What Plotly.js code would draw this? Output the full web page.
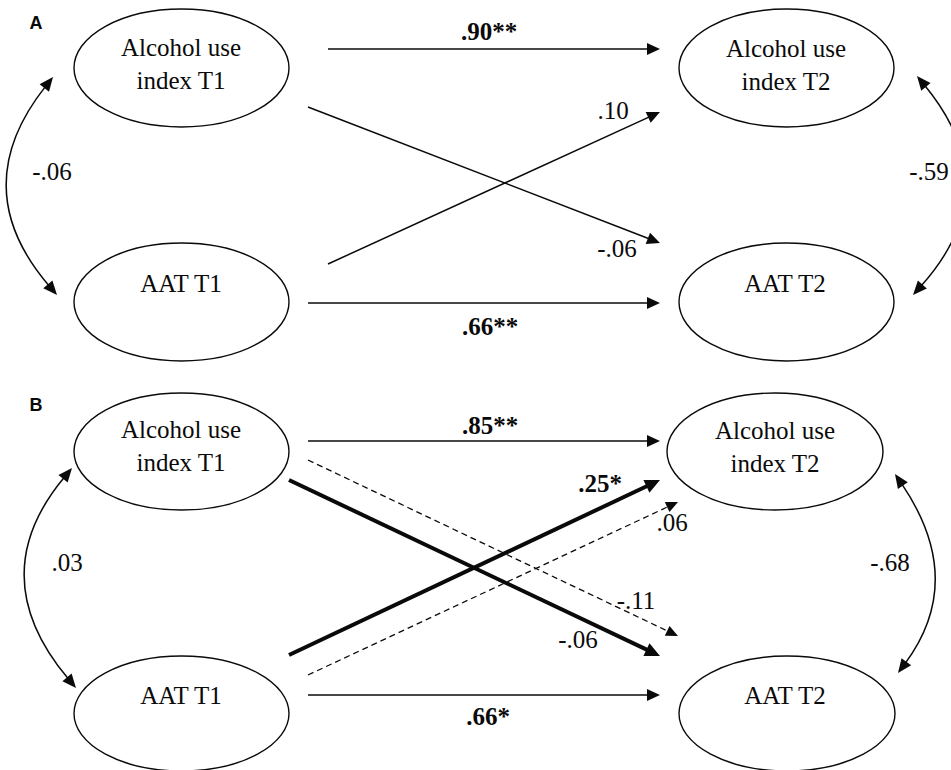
<!DOCTYPE html>
<html><head><meta charset="utf-8">
<script src="https://cdn.plot.ly/plotly-3.0.1.min.js"></script>
<style>html,body{margin:0;padding:0;background:#fff;}</style>
</head><body><div id="chart" style="width:951px;height:770px;"></div>
<script>
// ---------- data ----------
const panels = ["A", "B"];
const nodeNames = ["Alcohol use<br>index T1", "AAT T1", "Alcohol use<br>index T2", "AAT T2"];
const pathLabelsA = ["<b>.90**</b>", ".10", "-.06", "<b>.66**</b>"];
const covLabelsA = ["-.06", "-.59"];
const pathLabelsB = ["<b>.85**</b>", "<b>.25*</b>", ".06", "-.11", "-.06", "<b>.66*</b>"];
const covLabelsB = [".03", "-.68"];

// ---------- diagram geometry (pixel space) ----------
const G = {
  A: {
    panelPos: [36, 24],
    ellipses: [[74, 9, 289, 127], [74, 243, 289, 361], [679, 9, 894, 127], [679, 243, 894, 361]],
    nodePos: [[181, 66], [181, 286], [786, 67], [785, 286]],
    paths: [
      {from: [328, 49], to: [660, 49], style: "thin"},
      {from: [328, 264], to: [660, 112], style: "thin"},
      {from: [308, 107], to: [660, 243], style: "thin"},
      {from: [308, 303], to: [660, 303], style: "thin"}
    ],
    labelPos: [[489, 34], [613, 113], [617, 251], [490, 329]],
    covs: [{p0: [53, 77], c: [-35, 188], p1: [57, 295]}, {p0: [917, 76], c: [1009, 188], p1: [913, 295]}],
    covPos: [[52, 174], [929, 174]]
  },
  B: {
    panelPos: [36, 406],
    ellipses: [[74, 393, 289, 510], [74, 656, 289, 771], [667, 393, 883, 510], [679, 656, 895, 771]],
    nodePos: [[181, 448], [181, 698], [775, 449], [785, 698]],
    paths: [
      {from: [308, 441], to: [660, 441], style: "thin"},
      {from: [289, 655], to: [660, 480], style: "thick"},
      {from: [308, 675], to: [678, 502], style: "dash"},
      {from: [308, 460], to: [678, 636], style: "dash"},
      {from: [289, 480], to: [660, 656], style: "thick"},
      {from: [308, 695], to: [660, 695], style: "thin"}
    ],
    labelPos: [[490, 428], [600, 486], [672, 525], [636, 603], [578, 642], [488, 719]],
    covs: [{p0: [72, 468], c: [-18, 576], p1: [76, 688]}, {p0: [895, 474], c: [967, 580], p1: [898, 673]}],
    covPos: [[67, 565], [890, 565]]
  }
};

const INK = "#0a0a0a";
const STY = {
  thin: {w: 1.5, dash: "solid", len: 13, hw: 6},
  thick: {w: 4, dash: "solid", len: 15, hw: 7},
  dash: {w: 1.3, dash: "6px,4px", len: 12, hw: 5.5}
};

const shapes = [];
function head(tip, dx, dy, len, hw) {
  const L = Math.hypot(dx, dy), ux = dx / L, uy = dy / L;
  const bx = tip[0] - ux * len, by = tip[1] - uy * len;
  const px = -uy, py = ux;
  shapes.push({type: "path", xref: "x", yref: "y", layer: "above",
    path: `M ${tip[0]},${tip[1]} L ${bx + px * hw},${by + py * hw} L ${bx - px * hw},${by - py * hw} Z`,
    fillcolor: INK, line: {width: 0}});
  return [bx + ux * 2, by + uy * 2];
}

const labelsByPanel = {A: [pathLabelsA, covLabelsA], B: [pathLabelsB, covLabelsB]};
const nodeX = [], nodeY = [], nodeT = [];
const labX = [], labY = [], labT = [];
const panX = [], panY = [], panT = [];

panels.forEach(p => {
  const g = G[p];
  panX.push(g.panelPos[0]); panY.push(g.panelPos[1]); panT.push("<b>" + p + "</b>");
  g.ellipses.forEach((e, i) => {
    shapes.push({type: "circle", xref: "x", yref: "y", x0: e[0], y0: e[1], x1: e[2], y1: e[3],
      line: {color: INK, width: 1.4}, fillcolor: "rgba(0,0,0,0)"});
    nodeX.push(g.nodePos[i][0]); nodeY.push(g.nodePos[i][1]); nodeT.push(nodeNames[i]);
  });
  const [pl, cl] = labelsByPanel[p];
  g.paths.forEach((a, i) => {
    const s = STY[a.style];
    const end = head(a.to, a.to[0] - a.from[0], a.to[1] - a.from[1], s.len, s.hw);
    shapes.push({type: "line", xref: "x", yref: "y", x0: a.from[0], y0: a.from[1], x1: end[0], y1: end[1],
      line: {color: INK, width: s.w, dash: s.dash}});
    labX.push(g.labelPos[i][0]); labY.push(g.labelPos[i][1]); labT.push(pl[i]);
  });
  g.covs.forEach((c, i) => {
    const s0 = head(c.p0, c.p0[0] - c.c[0], c.p0[1] - c.c[1], 14, 6);
    const s1 = head(c.p1, c.p1[0] - c.c[0], c.p1[1] - c.c[1], 14, 6);
    shapes.push({type: "path", xref: "x", yref: "y",
      path: `M ${s0[0]},${s0[1]} Q ${c.c[0]},${c.c[1]} ${s1[0]},${s1[1]}`,
      line: {color: INK, width: 1.5}, fillcolor: "rgba(0,0,0,0)"});
    labX.push(g.covPos[i][0]); labY.push(g.covPos[i][1]); labT.push(cl[i]);
  });
});

const serif = {family: "Liberation Serif, Times New Roman, serif", size: 25, color: INK};
const traces = [
  {type: "scatter", mode: "text", x: nodeX, y: nodeY, text: nodeT, textposition: "middle center",
   textfont: serif, hoverinfo: "skip", cliponaxis: false},
  {type: "scatter", mode: "text", x: labX, y: labY, text: labT, textposition: "middle center",
   textfont: serif, hoverinfo: "skip", cliponaxis: false},
  {type: "scatter", mode: "text", x: panX, y: panY, text: panT, textposition: "middle center",
   textfont: {family: "Liberation Sans, Arial, sans-serif", size: 18, color: INK}, hoverinfo: "skip", cliponaxis: false}
];

const layout = {
  width: 951, height: 770,
  margin: {l: 0, r: 0, t: 0, b: 0},
  paper_bgcolor: "#ffffff", plot_bgcolor: "#ffffff",
  showlegend: false,
  xaxis: {range: [0, 951], visible: false, fixedrange: true},
  yaxis: {range: [770, 0], visible: false, fixedrange: true},
  shapes: shapes
};
Plotly.newPlot("chart", traces, layout, {staticPlot: true});
</script>
</body></html>
